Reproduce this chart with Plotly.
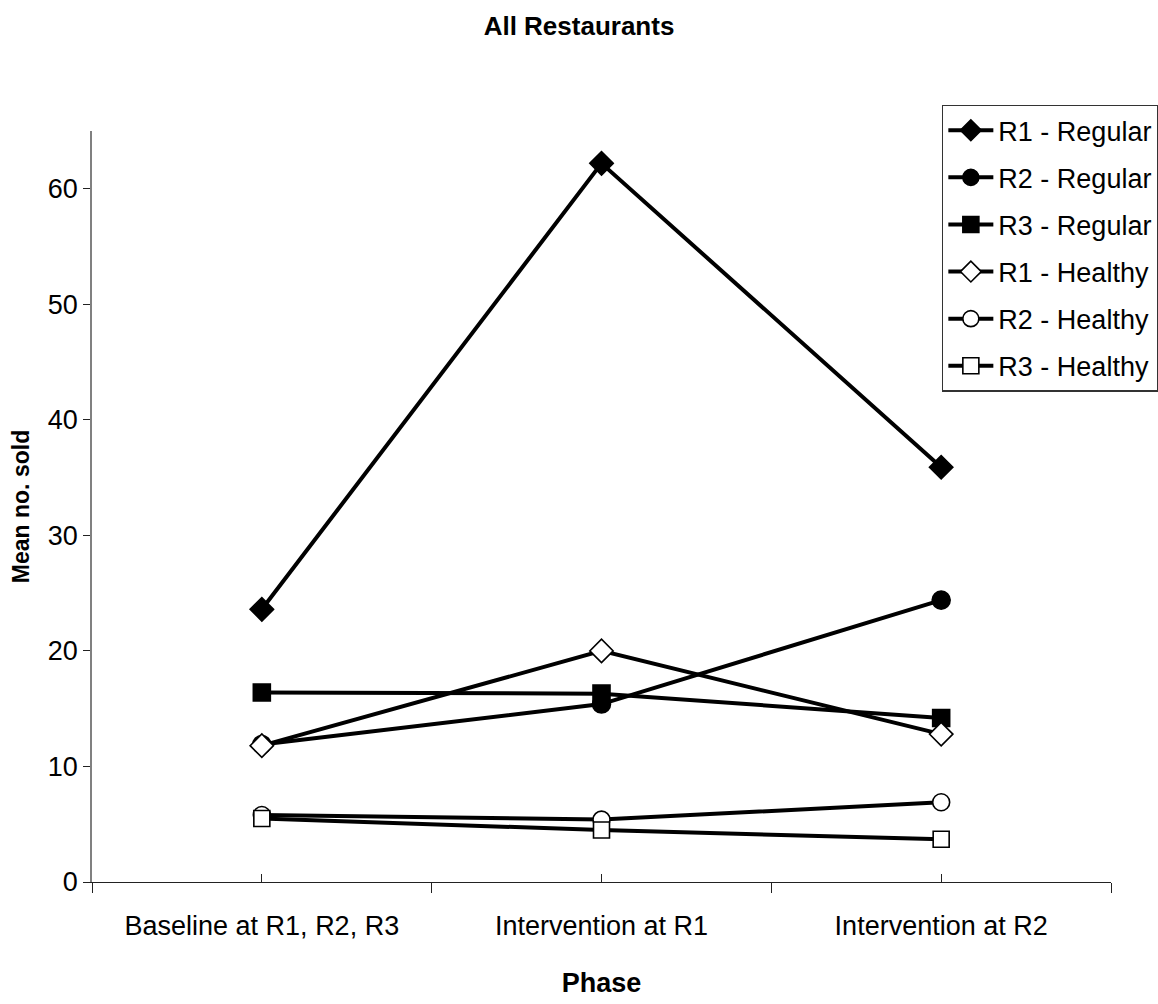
import plotly.graph_objects as go

# Phases on the x axis
phases = ["Baseline at R1, R2, R3", "Intervention at R1", "Intervention at R2"]

# Mean number sold per phase
r1_regular = [23.6, 62.2, 35.9]
r2_regular = [11.9, 15.4, 24.4]
r3_regular = [16.4, 16.3, 14.2]
r1_healthy = [11.8, 20.0, 12.8]
r2_healthy = [5.8, 5.4, 6.9]
r3_healthy = [5.5, 4.5, 3.7]

series = [
    ("R1 - Regular", r1_regular, "diamond", "black", 18),
    ("R2 - Regular", r2_regular, "circle", "black", 18),
    ("R3 - Regular", r3_regular, "square", "black", 17),
    ("R1 - Healthy", r1_healthy, "diamond", "white", 18),
    ("R2 - Healthy", r2_healthy, "circle", "white", 17),
    ("R3 - Healthy", r3_healthy, "square", "white", 16),
]

FONT = "Liberation Sans Narrow, Arial Narrow, Liberation Sans, Arial"

fig = go.Figure()

# helper trace on the overlaid axis that carries the inside ticks at category centres
fig.add_trace(go.Scatter(
    x=phases, y=r1_regular, xaxis="x2", mode="lines",
    line=dict(color="rgba(0,0,0,0)"), showlegend=False, hoverinfo="skip",
))

for name, vals, sym, fill, size in series:
    fig.add_trace(go.Scatter(
        x=phases, y=vals, name=name, legendgroup=name, mode="lines+markers",
        line=dict(color="black", width=4),
        marker=dict(symbol=sym, size=size, color=fill,
                    line=dict(color="black", width=1.6)),
    ))

fig.update_layout(
    width=1158, height=1004,
    paper_bgcolor="white", plot_bgcolor="white",
    margin=dict(l=92, r=47, t=131, b=122, autoexpand=False),
    font=dict(family=FONT, color="black", size=27),
    title=dict(
        text="<b>All Restaurants</b>",
        x=0.5, xanchor="center", y=0.974, yanchor="middle",
        font=dict(family=FONT, size=26, color="black"),
    ),
    xaxis=dict(
        type="category", categoryorder="array", categoryarray=phases,
        range=[-0.5, 2.5],
        showline=True, linecolor="#222", linewidth=1,
        ticks="outside", ticklen=10, tickwidth=1, tickcolor="#222",
        tickson="boundaries", showgrid=False, zeroline=False,
        tickfont=dict(family=FONT, size=27),
        ticklabelstandoff=20,
        title=dict(text="<b>Phase</b>", standoff=32,
                   font=dict(family=FONT, size=27)),
    ),
    xaxis2=dict(
        type="category", categoryorder="array", categoryarray=phases,
        overlaying="x", matches="x", anchor="y", side="bottom",
        range=[-0.5, 2.5],
        showline=False, showgrid=False, zeroline=False,
        ticks="inside", ticklen=8, tickwidth=1, tickcolor="#222",
        showticklabels=False,
    ),
    yaxis=dict(
        range=[0, 65], tickmode="array", tickvals=[0, 10, 20, 30, 40, 50, 60],
        showline=True, linecolor="#808080", linewidth=1.5,
        ticks="outside", ticklen=7, tickwidth=1, tickcolor="#222",
        showgrid=False, zeroline=False,
        tickfont=dict(family=FONT, size=27),
        title=dict(text="<b>Mean no. sold</b>", standoff=12,
                   font=dict(family="Liberation Sans, Arial", size=23)),
    ),
    legend=dict(
        x=0.834, y=1.035, xanchor="left", yanchor="top",
        bgcolor="white", bordercolor="#333", borderwidth=1.5,
        font=dict(family=FONT, size=27),
        itemwidth=45, tracegroupgap=9,
    ),
    showlegend=True,
)

fig.write_html("out.html")
